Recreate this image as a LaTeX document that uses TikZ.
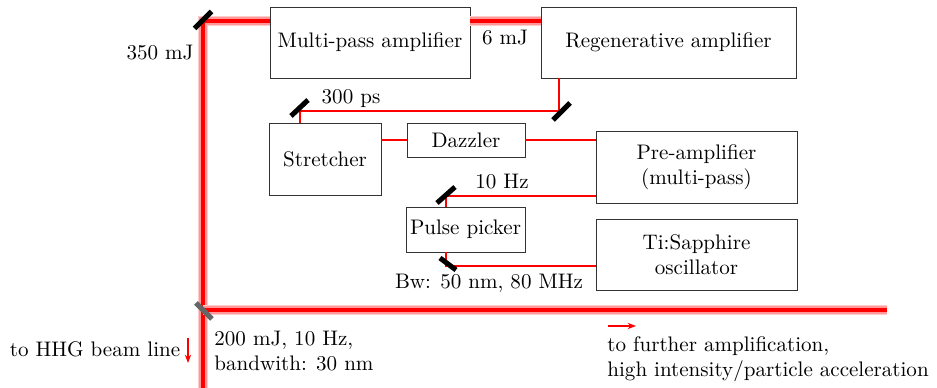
\documentclass[tikz,border=0pt]{standalone}
\usetikzlibrary{arrows.meta}
\tikzset{
  box/.style={draw=black!80, line width=0.4pt, inner sep=0pt, align=center},
  beam/.style={draw=red, line width=1.3pt},
  pulse/.style={draw=red, line width=1.9pt, preaction={draw=red!20, line width=4.6pt}, preaction={draw=red!40, line width=3.4pt}},
  mirror/.style={draw=black, line width=2.4pt},
  note/.style={inner sep=0pt, align=left},
  hint/.style={draw=red, line width=0.5pt, -{Stealth[length=4pt, width=3pt]}}
}
\begin{document}
\begin{tikzpicture}[x=0.475pt, y=-0.475pt]
        \useasboundingbox (0,0) rectangle (937,388);

        % amplifier chain
        \node (MP) [box, minimum width=95pt, minimum height=33.7pt] at (370,42.5) {Multi-pass amplifier};
        \node (RA) [box, minimum width=121.1pt, minimum height=33.7pt] at (668.5,42.5) {Regenerative amplifier};
        \node (ST) [box, minimum width=53.2pt, minimum height=34.2pt] at (325,159) {Stretcher};
        \node (DZ) [box, minimum width=56pt, minimum height=16.2pt] at (466,140) {Dazzler};
        \node (PA) [box, minimum width=95.5pt, minimum height=34.2pt] at (696.5,167) {Pre-amplifier\\(multi-pass)};
        \node (PP) [box, minimum width=56.5pt, minimum height=21.4pt] at (465.5,229.5) {Pulse picker};
        \node (OS) [box, minimum width=95.5pt, minimum height=33.7pt] at (696.5,254.5) {Ti:Sapphire\\oscillator};

        % mirrors and beam ends
        \coordinate (M0) at (203,21);
        \coordinate (B0) at (203,388);
        \coordinate (M1) at (559,111);
        \coordinate (M2) at (300,111);
        \coordinate (M3) at (446,196);
        \coordinate (M4) at (446,266);
        \coordinate (M5) at (203,310);
        \coordinate (E5) at (887,310);

        \draw[beam] (RA.south -| M1) -- (M1) -- (M2) -- (M2 |- ST.north);
        \draw[beam] (ST.east |- DZ.west) -- (DZ.west);
        \draw[beam] (DZ.east) -- (PA.west |- DZ.east);
        \draw[beam] (PA.west |- M3) -- (M3) -- (M3 |- PP.north);
        \draw[beam] (PP.south -| M4) -- (M4) -- (OS.west |- M4);

        \draw[pulse] (B0) -- (M0) -- (M0 -| MP.west);
        \draw[pulse] (MP.east |- M0) -- (RA.west |- M0);
        \draw[pulse] (M5) -- (E5);

        \draw[mirror, shift={(M0)}] (-8.5,7.5) -- (8.5,-9.5);
        \draw[mirror, shift={(M1)}] (-6,9) -- (11,-8);
        \draw[mirror, shift={(M2)}] (-9,5) -- (8,-11);
        \draw[mirror, shift={(M3)}] (-9,7) -- (9,-9);
        \draw[mirror, shift={(M4)}] (-6,-8) -- (10,4);
        \draw[mirror, draw=black!60, shift={(M5)}] (-7,-7) -- (9,9);

        % labels
        \node (L1) [note] at (160,53) {350 mJ};
        \node (L2) [note] at (505,38) {6 mJ};
        \node (L3) [note] at (351,99) {300 ps};
        \node (L4) [note] at (502,182) {10 Hz};
        \node (L5) [note] at (489,283) {Bw: 50 nm, 80 MHz};
        \node (L6) [note, anchor=west] at (214,351) {200 mJ, 10 Hz,\\bandwith: 30 nm};
        \node (L7) [note] at (95,349) {to HHG beam line};
        \node (L8) [note, anchor=west] at (607,359) {to further amplification,\\high intensity/particle acceleration};

        \coordinate (A0) at (188,338);
        \coordinate (A1) at (188,363);
        \coordinate (A2) at (608,326);
        \coordinate (A3) at (636,326);
        \draw[hint] (A0) -- (A1);
        \draw[hint] (A2) -- (A3);
\end{tikzpicture}
\end{document}
